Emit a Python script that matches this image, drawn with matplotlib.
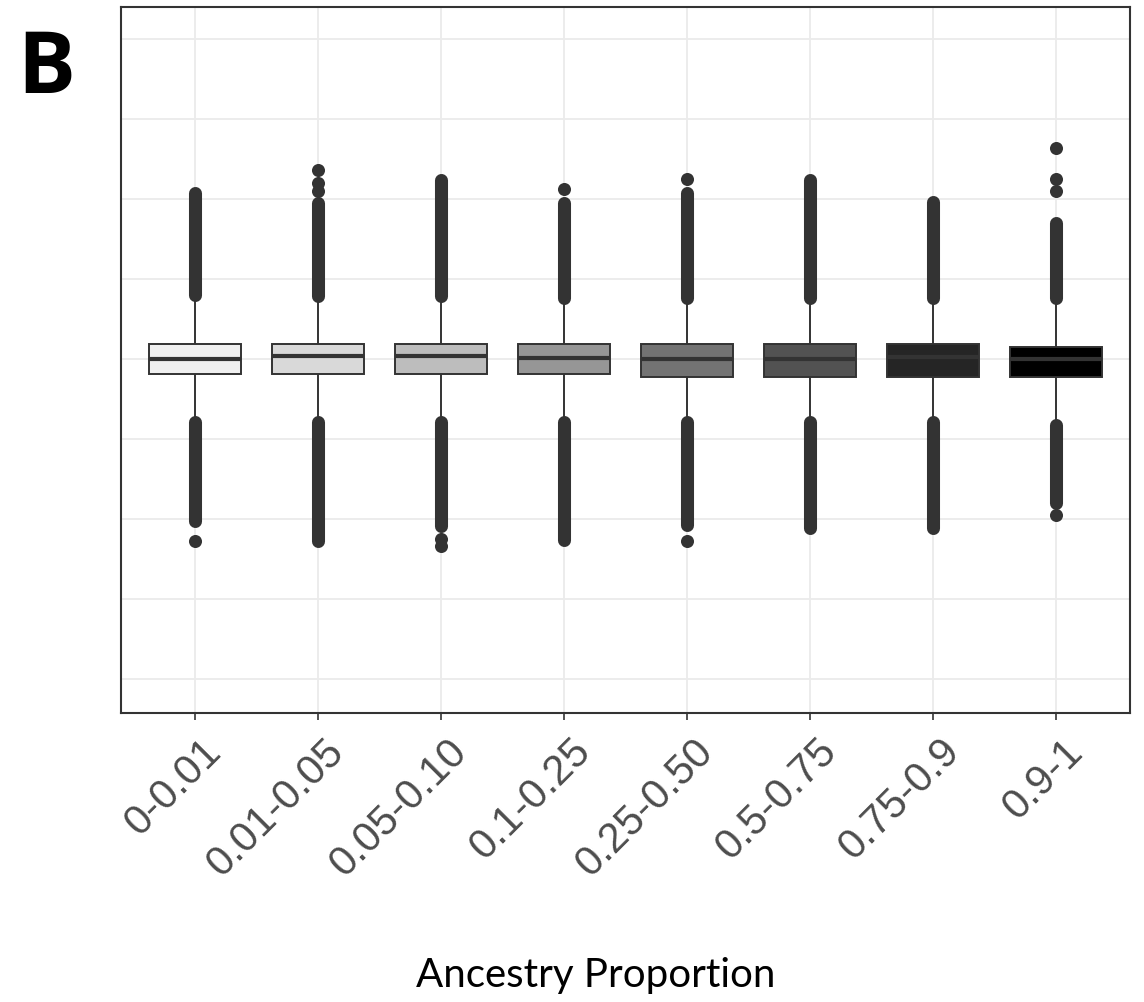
# Box plot of values by ancestry proportion bin (panel B)
# the outliers are so dense they form solid bands, so they are drawn
# as thick round-capped segments plus a few single points

import matplotlib
matplotlib.use("Agg")
import matplotlib.pyplot as plt
import matplotlib.transforms as mtransforms

cats = ["0-0.01", "0.01-0.05", "0.05-0.10", "0.1-0.25",
        "0.25-0.50", "0.5-0.75", "0.75-0.9", "0.9-1"]
fills = ["#F0F0F0", "#D9D9D9", "#BDBDBD", "#969696",
         "#737373", "#525252", "#252525", "#000000"]

q1 = [-0.19, -0.19, -0.19, -0.19, -0.22, -0.22, -0.22, -0.22]
med = [0.0, 0.04, 0.04, 0.01, 0.0, 0.0, 0.03, 0.0]
q3 = [0.19, 0.19, 0.19, 0.19, 0.19, 0.19, 0.19, 0.15]
whislo = [-0.74, -0.74, -0.74, -0.74, -0.74, -0.74, -0.74, -0.78]
whishi = [0.74, 0.74, 0.74, 0.72, 0.72, 0.72, 0.72, 0.72]

# dense outlier bands (centre of first / last point)
up_lo = [0.80, 0.79, 0.79, 0.76, 0.76, 0.76, 0.76, 0.76]
up_hi = [2.08, 1.95, 2.24, 1.95, 2.08, 2.24, 1.96, 1.70]
dn_hi = [-0.79, -0.79, -0.79, -0.79, -0.79, -0.79, -0.79, -0.83]
dn_lo = [-2.03, -2.27, -2.09, -2.26, -2.07, -2.11, -2.11, -1.80]

# single outliers outside the bands
extra = [[-2.275], [2.1, 2.2, 2.36], [-2.25, -2.34], [2.125],
         [2.25, -2.27], [], [], [2.1, 2.25, 2.64, -1.95]]

fig = plt.figure(figsize=(11.44, 10.03), dpi=100)
ax = fig.add_axes([0.1058, 0.2881, 0.8820, 0.7039])

dark = "#333333"
band_w = 9.4

stats = []
for i in range(len(cats)):
    stats.append({"q1": q1[i], "med": med[i], "q3": q3[i],
                  "whislo": whislo[i], "whishi": whishi[i], "fliers": []})

for i in range(len(cats)):
    ax.plot([i, i], [up_lo[i], up_hi[i]], color=dark, lw=band_w,
            solid_capstyle="round", zorder=2)
    ax.plot([i, i], [dn_lo[i], dn_hi[i]], color=dark, lw=band_w,
            solid_capstyle="round", zorder=2)
    if extra[i]:
        ax.scatter([i] * len(extra[i]), extra[i], s=band_w ** 2,
                   color=dark, linewidths=0, zorder=2)

bp = ax.bxp(stats, positions=range(len(cats)), widths=0.75,
            patch_artist=True, showcaps=False,
            boxprops=dict(edgecolor=dark, linewidth=1.4),
            whiskerprops=dict(color=dark, linewidth=1.4),
            medianprops=dict(color=dark, linewidth=3.0))
for patch, c in zip(bp["boxes"], fills):
    patch.set_facecolor(c)
    patch.set_zorder(3)
for line in bp["medians"]:
    line.set_zorder(4)

ax.set_xlim(-0.6, 7.6)
ax.set_ylim(-4.425, 4.4)
ax.set_yticks([-4, -3, -2, -1, 0, 1, 2, 3, 4])
ax.set_yticklabels([])
ax.tick_params(axis="y", length=0)
ax.set_xticks(range(len(cats)))
ax.set_xticklabels(cats, rotation=45, ha="right", rotation_mode="anchor",
                   fontsize=30, color="#4D4D4D", family="Liberation Sans")
ax.tick_params(axis="x", length=5, width=1.2, color=dark, pad=4)
shift = mtransforms.ScaledTranslation(0.06, -0.05, fig.dpi_scale_trans)
for lab in ax.get_xticklabels():
    lab.set_transform(lab.get_transform() + shift)

ax.grid(True, color="#EBEBEB", linewidth=1.3)
ax.set_axisbelow(True)
for s in ax.spines.values():
    s.set_color(dark)
    s.set_linewidth(1.5)

fig.text(0.521, 0.027, "Ancestry Proportion", ha="center", va="center",
         fontsize=29, family="Lato")
fig.text(0.04, 0.93, "B", ha="center", va="center", fontsize=62,
         fontweight="bold", family="Open Sans")

fig.savefig("out.png", dpi=100)
